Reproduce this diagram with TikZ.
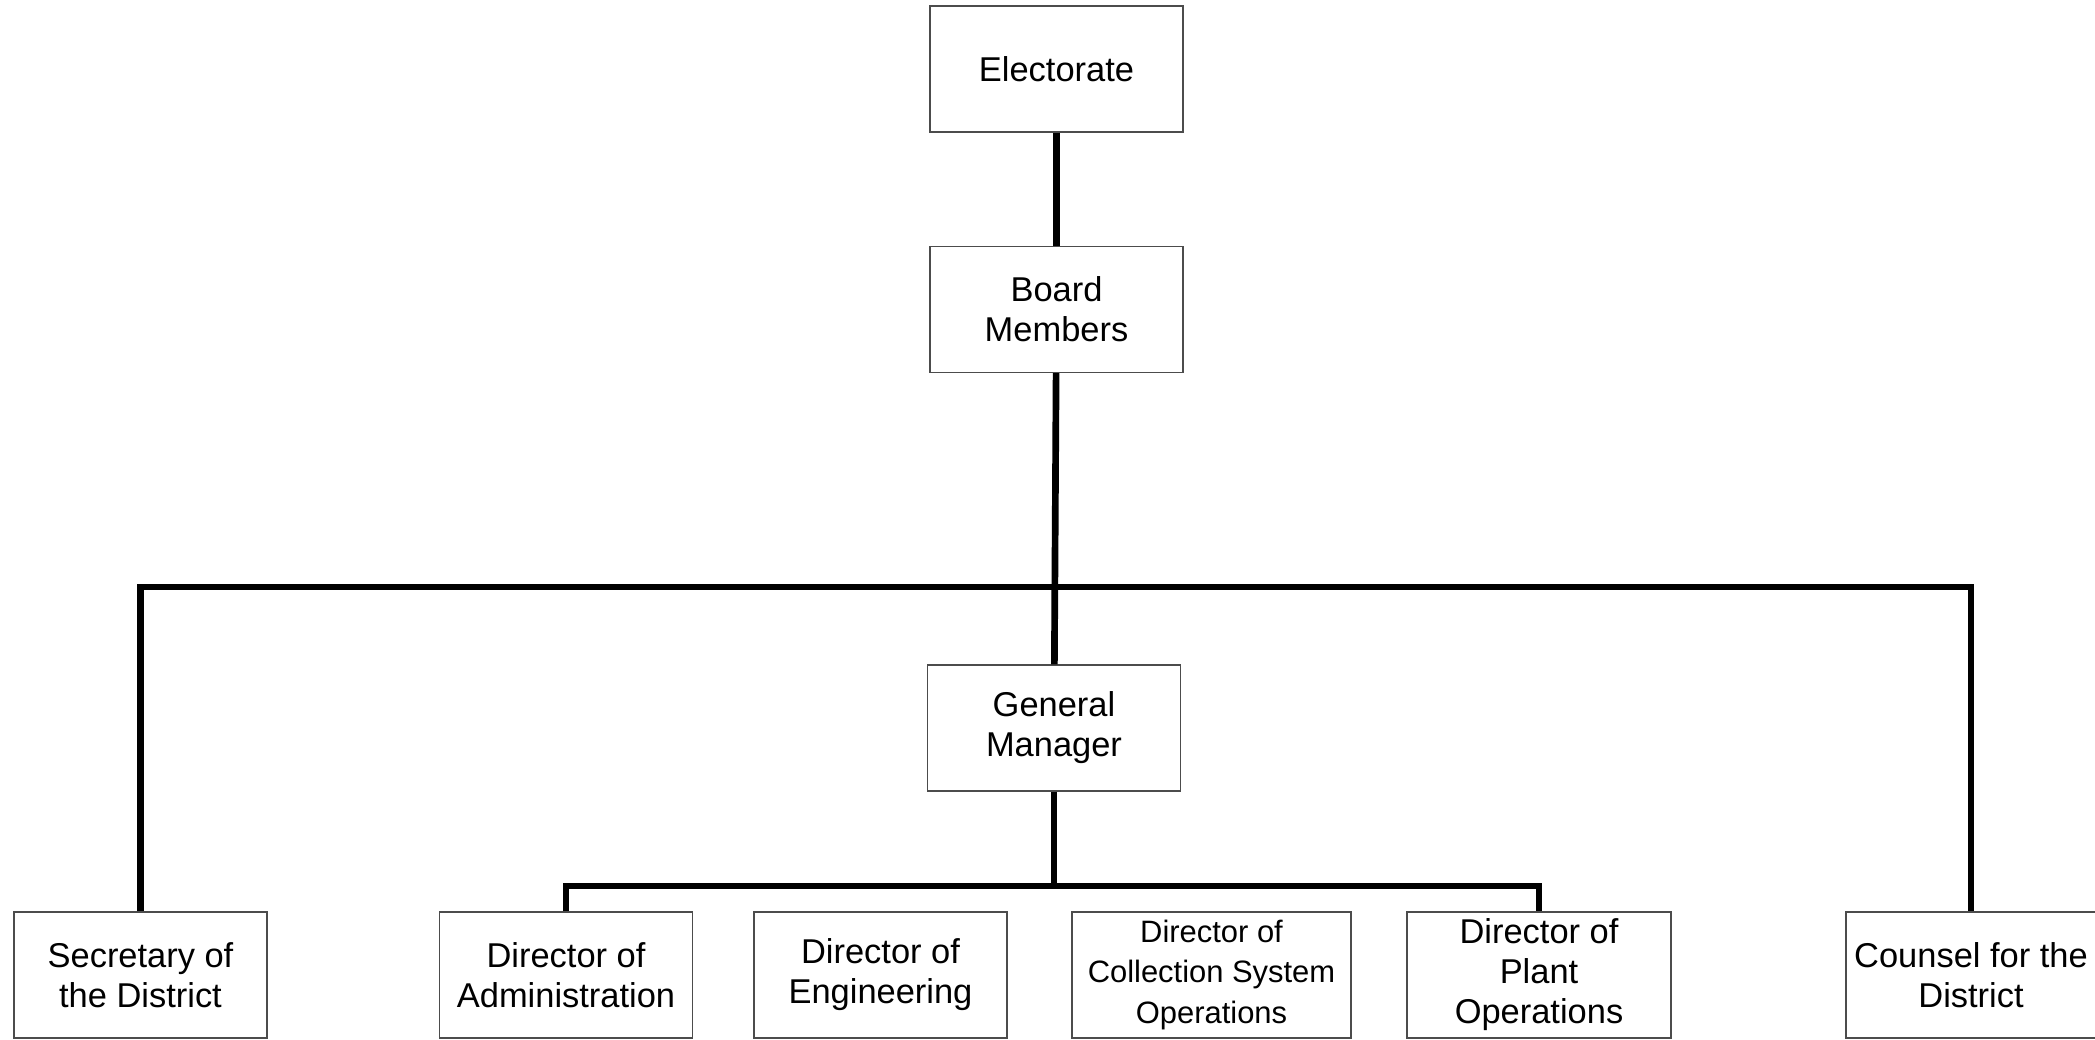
\documentclass[tikz,border=0pt]{standalone}
\usepackage{fontspec}
\setmainfont{Liberation Sans}
\usetikzlibrary{positioning}

\tikzset{
	office/.style={draw=black!70, line width=0.4pt, minimum width=2.53cm, minimum height=1.26cm,
		inner sep=0pt, align=center, font=\fontsize{9.8}{11.4}\selectfont},
	link/.style={line width=1.9pt}
}

\begin{document}
\begin{tikzpicture}
		\useasboundingbox (0,0) rectangle (20.95,-10.40);
		
		\node[office] (E) at (10.565,-0.69) {Electorate};
		\node[office] (BM) at (10.565,-3.095) {Board\\Members};
		\node[office] (GM) at (10.54,-7.28) {General\\Manager};
		
		\node[office] (SD) at (1.405,-9.75) {Secretary of\\the District};
		\node[office] (DA) at (5.66,-9.75) {Director of\\Administration};
		\node[office] (DE) at (8.805,-9.75) {Director of\\Engineering};
		\node[office, minimum width=2.79cm, font=\fontsize{8.8}{11.4}\selectfont] (DC) at (12.115,-9.75) {Director of\\Collection System\\Operations};
		\node[office, minimum width=2.64cm] (DP) at (15.39,-9.75) {Director of\\Plant\\Operations};
		\node[office, minimum width=2.5cm] (CD) at (19.71,-9.75) {Counsel for the\\District};
		
		\coordinate (top) at (10.56,-5.87);
		\coordinate (low) at (10.54,-8.86);
		
		\draw[link] (E) -- (BM);
		\draw[link] (BM) -- (GM);
		\draw[link] (SD) |- (top) -| (CD);
		\draw[link] (GM) -- (low);
		\draw[link] (DA) |- (low) -| (DP);
		\end{tikzpicture}
\end{document}
